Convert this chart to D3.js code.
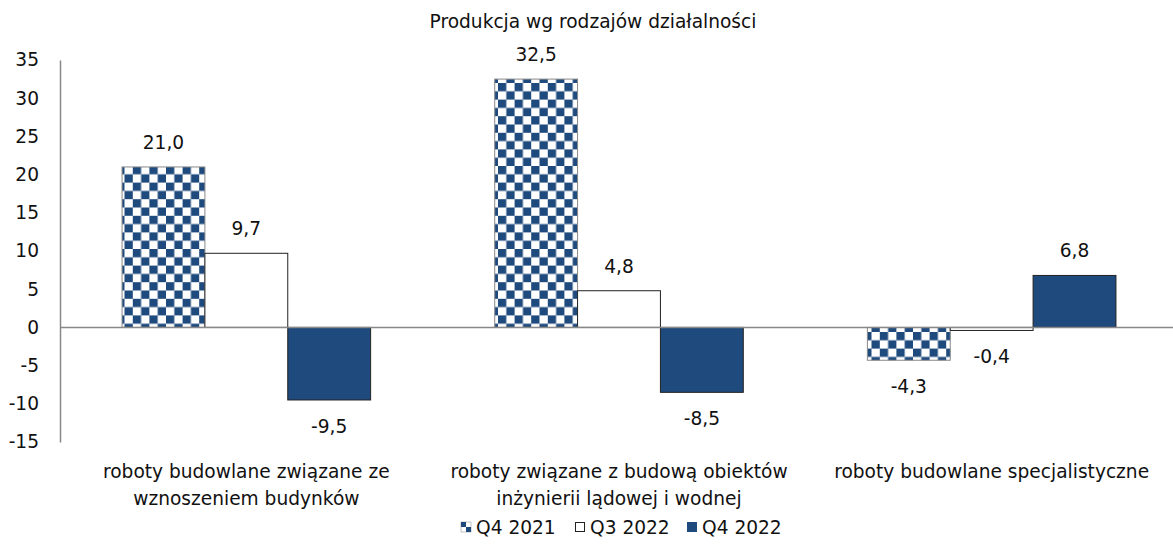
<!DOCTYPE html>
<html><head><meta charset="utf-8">
<script src="https://cdn.jsdelivr.net/npm/d3@7"></script>
<style>body{margin:0;background:#fff}svg{display:block}text{font-family:"DejaVu Sans",sans-serif;fill:#111}</style>
</head><body><svg id="c" width="1173" height="544"></svg>
<script>
const title = "Produkcja wg rodzajów działalności";
const categories = [["roboty budowlane związane ze","wznoszeniem budynków"],["roboty związane z budową obiektów","inżynierii lądowej i wodnej"],["roboty budowlane specjalistyczne"]];
const seriesNames = ["Q4 2021","Q3 2022","Q4 2022"];
const q4_2021 = [21.0, 32.5, -4.3];
const q3_2022 = [9.7, 4.8, -0.4];
const q4_2022 = [-9.5, -8.5, 6.8];
const yTicks = [35,30,25,20,15,10,5,0,-5,-10,-15];

const FS = "18.6px";
const svg = d3.select("#c");
const navy = "#1F4A7D";
const defs = svg.append("defs");
const pat = defs.append("pattern").attr("id","chk").attr("patternUnits","userSpaceOnUse").attr("width",16.6).attr("height",16.6);
pat.append("rect").attr("width",16.6).attr("height",16.6).attr("fill","#fff");
pat.append("rect").attr("width",8.3).attr("height",8.3).attr("fill",navy);
pat.append("rect").attr("x",8.3).attr("y",8.3).attr("width",8.3).attr("height",8.3).attr("fill",navy);

const x0 = d3.scaleBand().domain([0,1,2]).range([60,1178]).paddingInner(0.333).paddingOuter(0.1665);
const x1 = d3.scaleBand().domain([0,1,2]).range([0,x0.bandwidth()]);
const y = d3.scaleLinear().domain([-15,35]).range([442,60]);

svg.append("text").attr("x",593).attr("y",28).attr("text-anchor","middle").style("font-size",FS).text(title);

// y axis
const ya = svg.append("g").attr("transform","translate(60,0)").call(d3.axisLeft(y).tickValues(yTicks).tickSize(0).tickPadding(21).tickFormat(d=>String(d)));
ya.select(".domain").attr("stroke","#888").attr("stroke-width",1.5);
ya.selectAll("text").style("font-size",FS).attr("fill","#111").style("font-family","'DejaVu Sans',sans-serif");

const series = [q4_2021,q3_2022,q4_2022];
const fills = ["url(#chk)","#fff",navy];
const strokes = ["#888","#222","#222"];
const fmt = v => v.toFixed(1).replace(".",",");

series.forEach((vals,si)=>{
  const g = svg.append("g");
  g.selectAll("rect").data(vals).join("rect")
    .attr("x",(d,i)=>x0(i)+x1(si))
    .attr("width",x1.bandwidth())
    .attr("y",d=>y(Math.max(0,d)))
    .attr("height",d=>Math.abs(y(d)-y(0)))
    .attr("fill",fills[si]).attr("stroke",strokes[si]).attr("stroke-width",1);
  g.selectAll("text").data(vals).join("text")
    .attr("x",(d,i)=>x0(i)+x1(si)+x1.bandwidth()/2)
    .attr("y",d=> d>=0 ? y(d)-18 : y(d)+33)
    .attr("text-anchor","middle").style("font-size",FS)
    .text(d=>fmt(d));
});

// zero line
svg.append("line").attr("x1",60).attr("x2",1173).attr("y1",y(0)).attr("y2",y(0)).attr("stroke","#888").attr("stroke-width",1.5);

// category labels
categories.forEach((lines,i)=>{
  const cx = x0(i)+x0.bandwidth()/2;
  const t = svg.append("text").attr("x",cx).attr("y",478).attr("text-anchor","middle").style("font-size",FS);
  lines.forEach((l,k)=>t.append("tspan").attr("x",cx).attr("dy",k?27:0).text(l));
});

// legend
const legX = [461,575,687];
seriesNames.forEach((n,i)=>{
  const g = svg.append("g").attr("transform",`translate(${legX[i]},522)`);
  if(i===0){
    g.append("rect").attr("width",10).attr("height",10).attr("fill","#fff").attr("stroke","#888").attr("stroke-width",0.5);
    g.append("rect").attr("width",5).attr("height",5).attr("fill",navy);
    g.append("rect").attr("x",5).attr("y",5).attr("width",5).attr("height",5).attr("fill",navy);
  } else {
    g.append("rect").attr("x",0.5).attr("y",0.5).attr("width",9).attr("height",9).attr("fill",fills[i]).attr("stroke",i===1?"#222":navy).attr("stroke-width",1);
  }
  g.append("text").attr("x",15).attr("y",11.5).style("font-size",FS).text(n);
});
</script></body></html>
